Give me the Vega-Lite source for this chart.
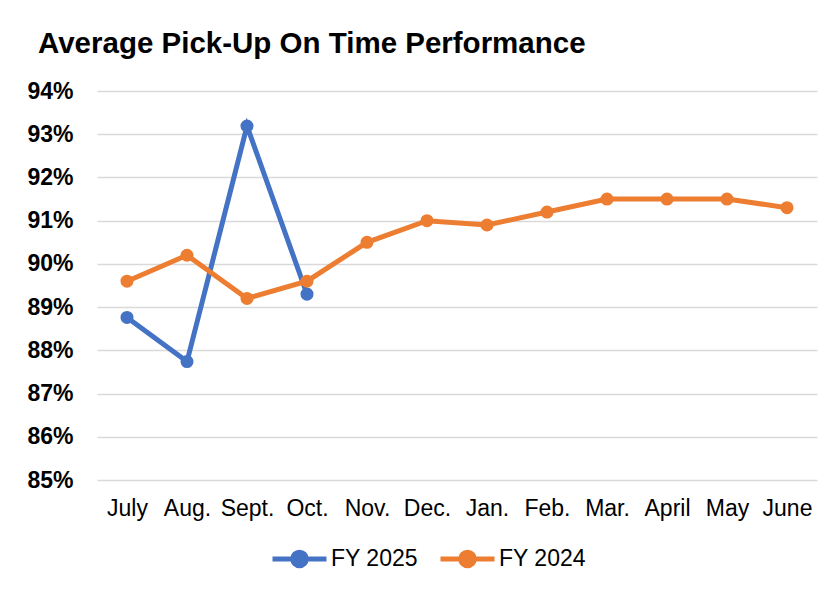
{
  "$schema": "https://vega.github.io/schema/vega-lite/v6.json",
  "width": 720,
  "height": 389,
  "autosize": {"type": "none"},
  "padding": {"left": 97, "top": 91, "right": 16, "bottom": 115},
  "background": "white",
  "config": {
    "font": "Liberation Sans",
    "view": {"stroke": null}
  },
  "title": {
    "text": "Average Pick-Up On Time Performance",
    "anchor": "start",
    "frame": "group",
    "fontSize": 29.5,
    "fontWeight": "bold",
    "color": "#000000",
    "dx": -59,
    "offset": 21
  },
  "data": {
    "values": [
      {"month": "July", "series": "FY 2025", "value": 0.8876},
      {"month": "Aug.", "series": "FY 2025", "value": 0.8774},
      {"month": "Sept.", "series": "FY 2025", "value": 0.9319},
      {"month": "Oct.", "series": "FY 2025", "value": 0.8930},
      {"month": "July", "series": "FY 2024", "value": 0.8960},
      {"month": "Aug.", "series": "FY 2024", "value": 0.9020},
      {"month": "Sept.", "series": "FY 2024", "value": 0.8920},
      {"month": "Oct.", "series": "FY 2024", "value": 0.8960},
      {"month": "Nov.", "series": "FY 2024", "value": 0.9050},
      {"month": "Dec.", "series": "FY 2024", "value": 0.9100},
      {"month": "Jan.", "series": "FY 2024", "value": 0.9090},
      {"month": "Feb.", "series": "FY 2024", "value": 0.9120},
      {"month": "Mar.", "series": "FY 2024", "value": 0.9150},
      {"month": "April", "series": "FY 2024", "value": 0.9150},
      {"month": "May", "series": "FY 2024", "value": 0.9150},
      {"month": "June", "series": "FY 2024", "value": 0.9130}
    ]
  },
  "encoding": {
    "x": {
      "field": "month",
      "type": "ordinal",
      "sort": ["July", "Aug.", "Sept.", "Oct.", "Nov.", "Dec.", "Jan.", "Feb.", "Mar.", "April", "May", "June"],
      "scale": {"type": "point", "padding": 0.5},
      "axis": {
        "title": null,
        "labelAngle": 0,
        "labelFontSize": 23,
        "labelColor": "#000000",
        "labelPadding": 17,
        "labelOverlap": false,
        "ticks": false,
        "domain": false,
        "grid": false
      }
    },
    "y": {
      "field": "value",
      "type": "quantitative",
      "scale": {"domain": [0.85, 0.94], "nice": false, "zero": false},
      "axis": {
        "title": null,
        "format": ".0%",
        "values": [0.85, 0.86, 0.87, 0.88, 0.89, 0.90, 0.91, 0.92, 0.93, 0.94],
        "labelFontSize": 23,
        "labelFontWeight": "bold",
        "labelColor": "#000000",
        "labelPadding": 24,
        "labelOverlap": false,
        "ticks": false,
        "domain": false,
        "grid": true,
        "gridColor": "#d9d9d9",
        "gridWidth": 1.5
      }
    },
    "color": {
      "field": "series",
      "type": "nominal",
      "scale": {"domain": ["FY 2025", "FY 2024"], "range": ["#4472C4", "#ED7D31"]},
      "legend": {
        "title": null,
        "orient": "none",
        "legendX": 173,
        "legendY": 438,
        "direction": "horizontal",
        "columns": 2,
        "columnPadding": 12,
        "labelFontSize": 23,
        "labelColor": "#000000",
        "labelOffset": 2,
        "symbolType": "M-1,0H1M-0.25,0A0.25,0.25 0 1,1 0.25,0A0.25,0.25 0 1,1 -0.25,0Z",
        "symbolSize": 2916,
        "symbolStrokeWidth": 5,
        "symbolOpacity": 1
      }
    }
  },
  "layer": [
    {
      "transform": [{"filter": "datum.series === 'FY 2025'"}],
      "mark": {"type": "line", "strokeWidth": 5, "point": {"size": 170, "filled": true, "opacity": 1}}
    },
    {
      "transform": [{"filter": "datum.series === 'FY 2024'"}],
      "mark": {"type": "line", "strokeWidth": 5, "point": {"size": 170, "filled": true, "opacity": 1}}
    }
  ]
}
